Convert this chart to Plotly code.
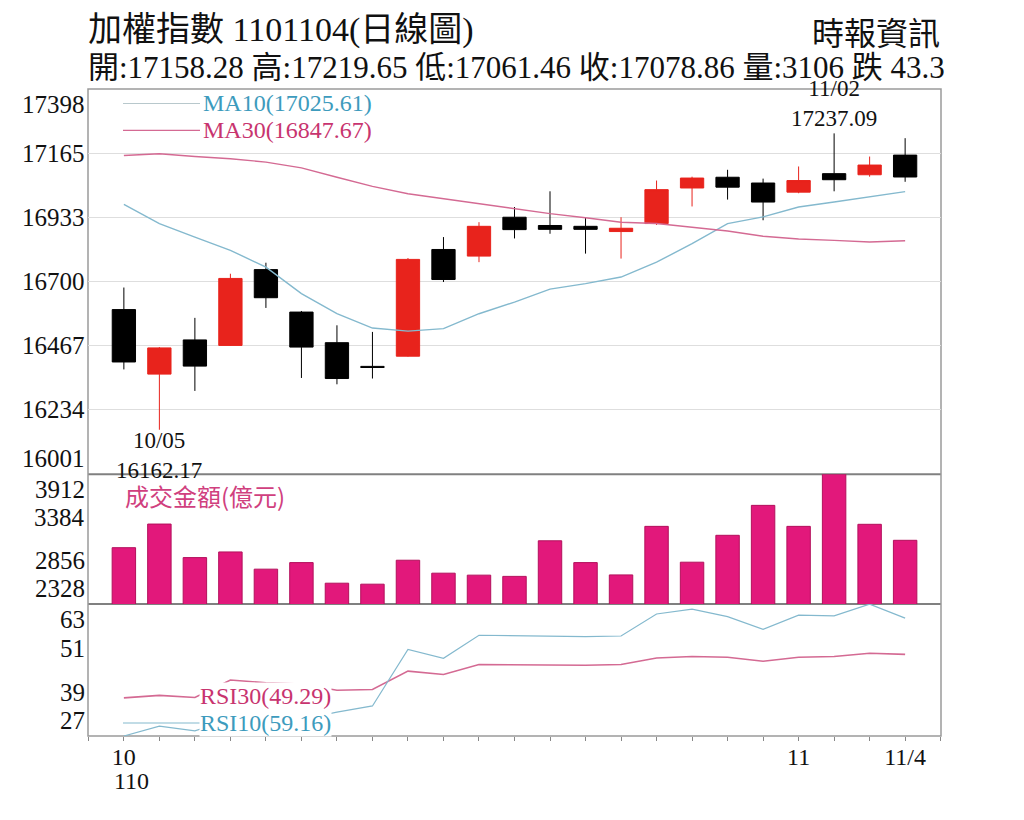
import plotly.graph_objects as go

# ---------------- data ----------------
dates = ["10/04", "10/05", "10/06", "10/07", "10/08", "10/12", "10/13", "10/14",
         "10/15", "10/18", "10/19", "10/20", "10/21", "10/22", "10/25", "10/26",
         "10/27", "10/28", "10/29", "11/01", "11/02", "11/03", "11/04"]
opens = [16598, 16364, 16488, 16468, 16743, 16589, 16478, 16392, 16429, 16816, 16792, 16933,
         16903, 16900, 16881, 16910, 17039, 17078, 17057, 17024, 17091, 17087, 17158.28]
highs = [16678, 16462, 16568, 16728, 16768, 16593, 16541, 16517, 16785, 16861, 16915, 16970,
         17027, 16933, 16933, 17066, 17080, 17105, 17073, 17117, 17237.09, 17153, 17219.65]
lows = [16381, 16162.17, 16303, 16466, 16604, 16350, 16327, 16348, 16427, 16698, 16770, 16856,
        16873, 16801, 16783, 16905, 16972, 16997, 16922, 17020, 17027, 17080, 17061.46]
closes = [16408, 16459, 16393, 16711, 16641, 16462, 16348, 16388, 16780, 16707, 16900, 16888,
          16889, 16889, 16893, 17033, 17075, 17042, 16988, 17066, 17069, 17122.16, 17078.86]
ma10 = [16980, 16910, 16861, 16813, 16752, 16656, 16583, 16531, 16520, 16529, 16583, 16625,
        16672, 16692, 16716, 16770, 16837, 16910, 16934, 16970, 16988, 17006, 17025.61]
ma30 = [17157, 17163, 17153, 17145, 17133, 17112, 17078, 17045, 17018, 17000, 16984, 16965,
        16946, 16931, 16915, 16910, 16897, 16883, 16864, 16854, 16849, 16843, 16847.67]
volume = [3016, 3304, 2895, 2964, 2754, 2834, 2583, 2571, 2863, 2705, 2681, 2666,
          3100, 2834, 2684, 3276, 2839, 3167, 3532, 3276, 3912, 3301, 3106]
rsi10 = [27.0, 29.7, 28.4, 31.5, 32.5, 31.5, 33.5, 35.2, 50.6, 48.2, 54.5, 54.3,
         54.1, 54.1, 54.3, 60.3, 61.6, 59.6, 56.1, 60.0, 59.8, 63.0, 59.16]
rsi30 = [37.4, 38.1, 37.5, 42.3, 41.5, 41.2, 39.5, 39.7, 44.7, 43.8, 46.5, 46.4,
         46.3, 46.3, 46.5, 48.3, 48.7, 48.5, 47.4, 48.5, 48.7, 49.6, 49.29]

price_ticks = [16001, 16234, 16467, 16700, 16933, 17165, 17398]
vol_ticks = [2328, 2856, 3384, 3912]
rsi_ticks = [27, 39, 51, 63]
x_tick_pos = [0, 19, 22]
x_tick_text = ["10", "11", "11/4"]
year_label = "110"
title_text = "加權指數 1101104(日線圖)"
source_text = "時報資訊"

# ---------------- layout helpers ----------------
OFF = 8                                # page body margin of the browser
W, H = 1024 - OFF, 820 - OFF
PL, PR, PT, PB = 88, 941, 88.5, 736    # plot box in reference pixels
def xp(p):
    return (p - PL) / (PR - PL)
def yp(p):
    return (PB - p) / (PB - PT)

SERIF = "Liberation Serif, Noto Sans CJK TC, serif"
CJK = "Noto Sans CJK TC, sans-serif"
RED = "#e8231c"
BLUE_T = "#3d9bbd"
PINK_T = "#c8346f"
MA10_C = "#84b9ce"
MA30_C = "#d46a93"
BAR_C = "#e2187b"

x = list(range(len(dates)))

fig = go.Figure()
fig.add_trace(go.Candlestick(
    x=x, open=opens, high=highs, low=lows, close=closes,
    increasing=dict(line=dict(color=RED, width=1), fillcolor=RED),
    decreasing=dict(line=dict(color="#000000", width=1), fillcolor="#000000"),
    whiskerwidth=0, xaxis="x", yaxis="y", showlegend=False))
fig.add_trace(go.Scatter(x=x, y=ma10, mode="lines", line=dict(color=MA10_C, width=1.4),
                         xaxis="x", yaxis="y", showlegend=False))
fig.add_trace(go.Scatter(x=x, y=ma30, mode="lines", line=dict(color=MA30_C, width=1.4),
                         xaxis="x", yaxis="y", showlegend=False))
fig.add_trace(go.Bar(x=x, y=volume, width=0.66, marker=dict(color=BAR_C, line=dict(color="#b3105c", width=1)),
                     xaxis="x", yaxis="y2", showlegend=False))
fig.add_trace(go.Scatter(x=x, y=rsi30, mode="lines", line=dict(color=MA30_C, width=1.6),
                         xaxis="x", yaxis="y3", showlegend=False))
fig.add_trace(go.Scatter(x=x, y=rsi10, mode="lines", line=dict(color=MA10_C, width=1.2),
                         xaxis="x", yaxis="y3", showlegend=False))

annotations = []
# y-axis tick labels
for axis_ref, ticks in (("y", price_ticks), ("y2", vol_ticks), ("y3", rsi_ticks)):
    for i, t in enumerate(ticks):
        anchor = "bottom" if i == 0 else ("top" if i == len(ticks) - 1 else "middle")
        annotations.append(dict(x=0, xref="paper", y=t, yref=axis_ref, text=str(t),
                                xanchor="right", yanchor=anchor, xshift=-1, showarrow=False,
                                font=dict(family=SERIF, size=25, color="#111")))
# year label under first tick
annotations.append(dict(x=x_tick_pos[0], xref="x", y=yp(781), yref="paper", text=year_label,
                        xanchor="left", yanchor="middle", xshift=-12, showarrow=False,
                        font=dict(family=SERIF, size=24, color="#111")))
# low / high annotations (date and value as one two-line label)
i_low = lows.index(min(lows))
i_high = highs.index(max(highs))
annotations += [
    dict(x=i_low, xref="x", y=lows[i_low], yref="y",
         text=f"{dates[i_low]}<br>{lows[i_low]:.2f}", yshift=-26,
         yanchor="middle", showarrow=False,
         font=dict(family=SERIF, size=23, color="#111")),
    dict(x=i_high, xref="x", y=highs[i_high], yref="y",
         text=f"{dates[i_high]}<br>{highs[i_high]:.2f}", yshift=30,
         yanchor="middle", showarrow=False, font=dict(family=SERIF, size=23, color="#111")),
]
# indicator labels
annotations += [
    dict(x=xp(201), y=yp(103), xref="paper", yref="paper", text=f"MA10({ma10[-1]:.2f})",
         xanchor="left", yanchor="middle", showarrow=False, font=dict(family=SERIF, size=24, color=BLUE_T)),
    dict(x=xp(201), y=yp(130), xref="paper", yref="paper", text=f"MA30({ma30[-1]:.2f})",
         xanchor="left", yanchor="middle", showarrow=False, font=dict(family=SERIF, size=24, color=PINK_T)),
    dict(x=xp(123), y=yp(495), xref="paper", yref="paper", text="成交金額(億元)",
         xanchor="left", yanchor="middle", showarrow=False, font=dict(family=CJK, size=24, color="#d0407e")),
    dict(x=xp(199), y=yp(696), xref="paper", yref="paper", text=f"RSI30({rsi30[-1]:.2f})",
         xanchor="left", yanchor="middle", showarrow=False, bgcolor="white", borderpad=0,
         font=dict(family=SERIF, size=24, color=PINK_T)),
    dict(x=xp(199), y=yp(723), xref="paper", yref="paper", text=f"RSI10({rsi10[-1]:.2f})",
         xanchor="left", yanchor="middle", showarrow=False, bgcolor="white", borderpad=0,
         font=dict(family=SERIF, size=24, color=BLUE_T)),
]
# header
prev_close = closes[-2]
chg = closes[-1] - prev_close
chg_word = "跌" if chg < 0 else "漲"
line2 = (f"開:{opens[-1]:.2f} 高:{highs[-1]:.2f} 低:{lows[-1]:.2f} 收:{closes[-1]:.2f} "
         f"量:{volume[-1]} {chg_word} {abs(chg):.1f}")
annotations += [
    dict(x=xp(86), y=yp(29), xref="paper", yref="paper", text=title_text, xanchor="left",
         yanchor="middle", showarrow=False, font=dict(family=SERIF, size=34, color="#111")),
    dict(x=xp(86), y=yp(67), xref="paper", yref="paper", text=line2, xanchor="left",
         yanchor="middle", showarrow=False, font=dict(family=SERIF, size=31, color="#111")),
    dict(x=xp(942), y=yp(33), xref="paper", yref="paper", text=source_text, xanchor="right",
         yanchor="middle", showarrow=False, font=dict(family=SERIF, size=32, color="#111")),
]

shapes = [
    # legend lines
    dict(type="line", xref="paper", yref="paper", x0=xp(123), x1=xp(200), y0=yp(103), y1=yp(103),
         line=dict(color="#b8c8cc", width=1.2)),
    dict(type="line", xref="paper", yref="paper", x0=xp(123), x1=xp(200), y0=yp(130), y1=yp(130),
         line=dict(color=MA30_C, width=1.2)),
    dict(type="line", xref="paper", yref="paper", x0=xp(123), x1=xp(200), y0=yp(723), y1=yp(723),
         line=dict(color=MA10_C, width=1.2)),
    # panel separators
    dict(type="line", xref="paper", yref="paper", x0=0, x1=1, y0=yp(474), y1=yp(474),
         line=dict(color="#808080", width=2), layer="below"),
    dict(type="line", xref="paper", yref="paper", x0=0, x1=1, y0=yp(604), y1=yp(604),
         line=dict(color="#808080", width=2), layer="below"),
    # outer box
    dict(type="rect", xref="paper", yref="paper", x0=0, x1=1, y0=0, y1=1,
         line=dict(color="#9a9a9a", width=1.5), layer="below"),
]

fig.update_layout(
    width=W, height=H,
    margin=dict(l=PL - OFF, r=W - (PR - OFF), t=PT - OFF, b=H - (PB - OFF), pad=0),
    paper_bgcolor="white", plot_bgcolor="white",
    showlegend=False,
    boxgap=0.18, boxgroupgap=0.2,
    xaxis=dict(domain=[0, 1], range=[-1.01, 23.01], anchor="y3", rangeslider=dict(visible=False),
               tickmode="array", tickvals=x_tick_pos, ticktext=x_tick_text,
               ticks="outside", ticklen=4, tickcolor="#888", showgrid=False, zeroline=False,
               showline=False, ticklabelstandoff=-5,
               tickfont=dict(family=SERIF, size=24, color="#111"),
               minor=dict(tickmode="linear", tick0=0, dtick=1, ticks="outside", ticklen=4, tickcolor="#888")),
    yaxis=dict(domain=[yp(474), 1], range=[price_ticks[0], price_ticks[-1]], anchor="x",
               tickmode="array", tickvals=price_ticks, showticklabels=False, showgrid=True,
               gridcolor="#dedede", gridwidth=1, zeroline=False, showline=False),
    yaxis2=dict(domain=[yp(604), yp(474)], range=[vol_ticks[0], vol_ticks[-1]], anchor="x",
                tickmode="array", tickvals=vol_ticks, showticklabels=False, showgrid=False,
                zeroline=False, showline=False),
    yaxis3=dict(domain=[0, yp(604)], range=[rsi_ticks[0], rsi_ticks[-1]], anchor="x",
                tickmode="array", tickvals=rsi_ticks, showticklabels=False, showgrid=False,
                zeroline=False, showline=False),
    annotations=annotations, shapes=shapes,
)

fig.write_html("out.html")
